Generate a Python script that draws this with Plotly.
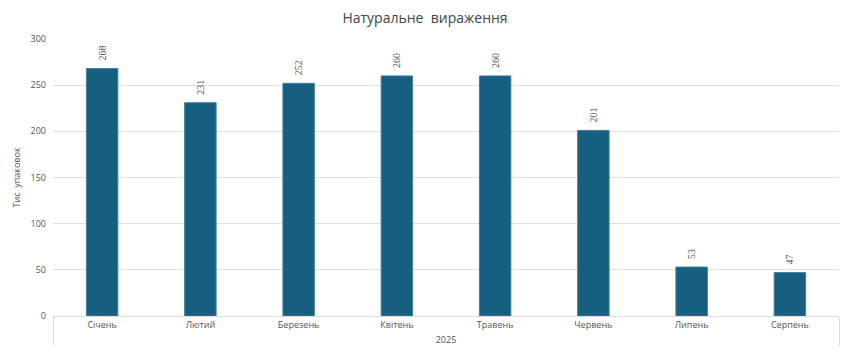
import plotly.graph_objects as go

months = ["Січень", "Лютий", "Березень", "Квітень", "Травень", "Червень", "Липень", "Серпень"]
year = ["2025"] * len(months)
values = [268, 231, 252, 260, 260, 201, 53, 47]
y_ticks = [0, 50, 100, 150, 200, 250, 300]

fig = go.Figure()
fig.add_trace(go.Bar(
    x=[year, months],
    y=values,
    text=["\u00a0\u00a0" + str(v) for v in values],
    textposition="outside",
    textangle=-90,
    cliponaxis=False,
    textfont=dict(family="Liberation Serif, serif", size=10, color="#555555"),
    marker=dict(color="#165f80", line=dict(color="#3f7f9c", width=1)),
    width=0.32,
))

fig.update_layout(
    width=850, height=355,
    margin=dict(l=53, r=11, t=39, b=39),
    paper_bgcolor="white", plot_bgcolor="white",
    title=dict(text="Натуральне  вираження", x=0.5, xanchor="center", y=0.95, yanchor="middle",
               font=dict(family="Open Sans, sans-serif", size=14, color="#444444")),
    font=dict(family="Open Sans, sans-serif", size=9, color="#555555"),
    showlegend=False,
    bargap=0.68,
)
fig.update_yaxes(range=[0, 300], tickvals=y_ticks, showgrid=True, gridcolor="#e0e0e0",
                 zeroline=False, showline=False, ticks="", ticklabelstandoff=6,
                 title=dict(text="Тис  упаковок", font=dict(size=9, color="#555555"), standoff=8),
                 tickfont=dict(size=9, color="#555555"))
fig.update_xaxes(type="multicategory", showline=True, linecolor="#dddddd", showdividers=True,
                 dividercolor="#dddddd", dividerwidth=1, ticks="", tickfont=dict(size=9, color="#555555"))

fig.write_html("out.html")
